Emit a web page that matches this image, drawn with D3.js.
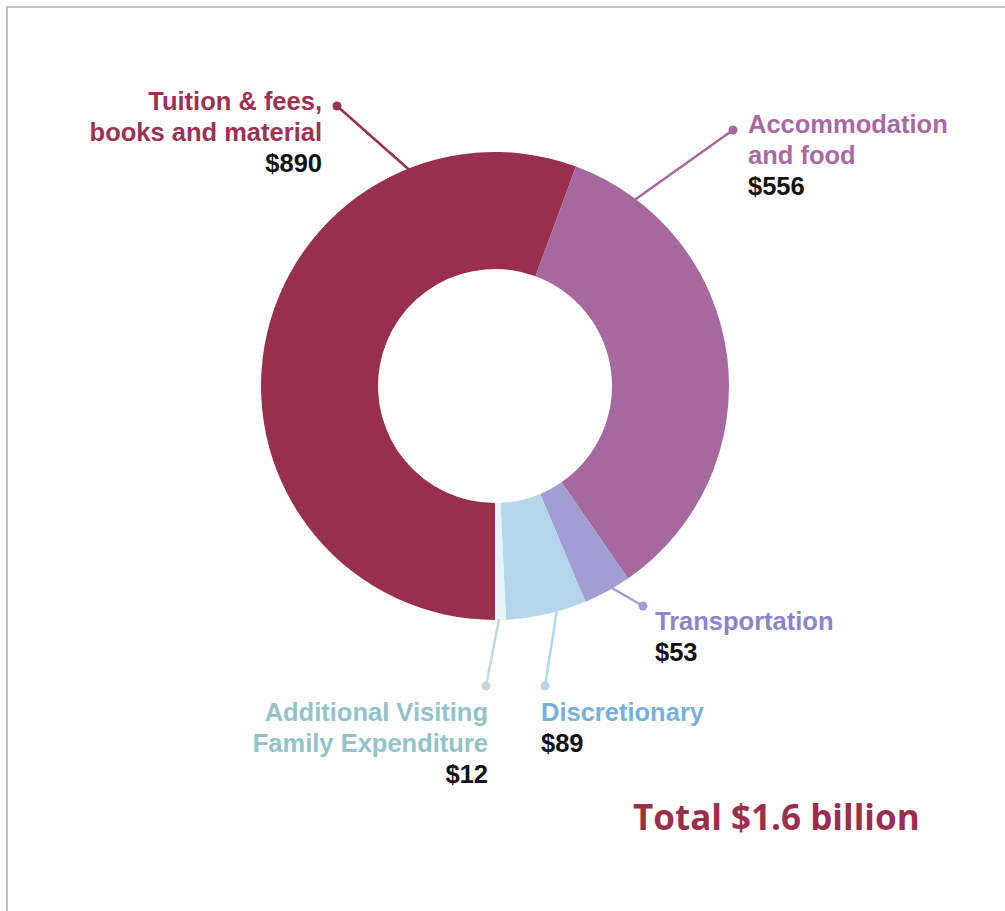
<!DOCTYPE html>
<meta charset="utf-8">
<style>
body { margin: 0; background: #fff; }
.lbl { font-family: "Liberation Sans", Arial, sans-serif; font-weight: bold; font-size: 25.5px; }
.val { fill: #111; }
.total { font-family: "Open Sans", sans-serif; font-weight: bold; font-size: 35px; fill: #98304d; }
</style>
<svg width="1005" height="911"></svg>
<script src="https://cdn.jsdelivr.net/npm/d3@7"></script>
<script>

// data
var categories = ["Tuition & fees, books and material", "Accommodation and food", "Transportation", "Discretionary", "Additional Visiting Family Expenditure"];
var values = [890, 556, 53, 89, 12];
var labelLines = [["Tuition & fees,", "books and material"], ["Accommodation", "and food"], ["Transportation"], ["Discretionary"], ["Additional Visiting", "Family Expenditure"]];
var totalText = "Total $1.6 billion";

var sliceColors = ["#98304c", "#a5699f", "#a09fd3", "#b4d5ec", "#e4f4f9"];
var textColors = ["#9b3253", "#a86aa3", "#8c86c8", "#79b0db", "#93c3c9"];
var lineColors = ["#98304c", "#a5699f", "#a09fd3", "#b4d5ec", "#c7d7da"];

// label layout: leader start angle (deg, on outer edge), dot, text anchor position
var layout = [
  {a: -21.7, dot: [337, 106], tx: 322, ty: 110, anchor: "end"},
  {a: 36.9, dot: [733, 130], tx: 748, ty: 133, anchor: "start"},
  {a: 150, dot: [643, 606], tx: 655, ty: 630, anchor: "start"},
  {a: 164.6, dot: [545, 686], tx: 541, ty: 721, anchor: "start"},
  {a: 179, dot: [486, 686], tx: 488, ty: 721, anchor: "end"}
];

var svg = d3.select("svg");
var cx = 495, cy = 386, outerR = 234, innerR = 117;

// frame
svg.append("rect")
    .attr("x", 7).attr("y", 7).attr("width", 1010).attr("height", 920)
    .attr("fill", "none").attr("stroke", "#c3c3c3").attr("stroke-width", 2);

var pie = d3.pie().sort(null).startAngle(Math.PI).endAngle(3 * Math.PI);
var arc = d3.arc().innerRadius(innerR).outerRadius(outerR);

var g = svg.append("g").attr("transform", "translate(" + cx + "," + cy + ")");
g.selectAll("path")
    .data(pie(values))
    .enter().append("path")
    .attr("d", arc)
    .attr("fill", function(d, i) { return sliceColors[i]; });

// leader lines
var leaders = svg.append("g");
layout.forEach(function(l, i) {
  var ang = l.a * Math.PI / 180;
  var x0 = cx + Math.sin(ang) * (outerR - 1), y0 = cy - Math.cos(ang) * (outerR - 1);
  leaders.append("line")
      .attr("x1", x0).attr("y1", y0)
      .attr("x2", l.dot[0]).attr("y2", l.dot[1])
      .attr("stroke", lineColors[i]).attr("stroke-width", 2.5);
  leaders.append("circle")
      .attr("cx", l.dot[0]).attr("cy", l.dot[1]).attr("r", 4.5)
      .attr("fill", lineColors[i]);
});

// labels
var labels = svg.append("g");
layout.forEach(function(l, i) {
  var t = labels.append("text")
      .attr("class", "lbl")
      .attr("text-anchor", l.anchor)
      .attr("x", l.tx).attr("y", l.ty);
  labelLines[i].forEach(function(s, j) {
    t.append("tspan").attr("x", l.tx).attr("dy", j === 0 ? 0 : 30.5)
        .attr("fill", textColors[i]).text(s);
  });
  t.append("tspan").attr("class", "val").attr("x", l.tx).attr("dy", 31)
      .text("$" + values[i]);
});

svg.append("text")
    .attr("class", "total")
    .attr("x", 633).attr("y", 830)
    .text(totalText);

</script>
